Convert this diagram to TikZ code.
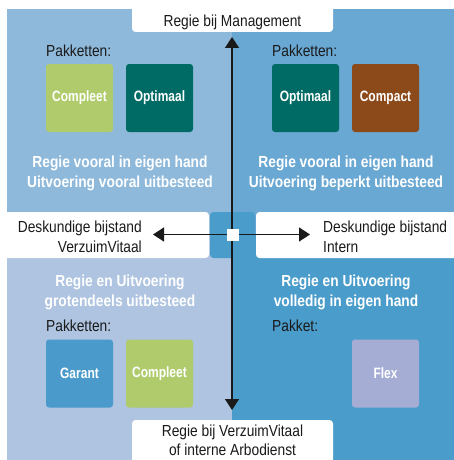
\documentclass[tikz,border=0pt]{standalone}
\usepackage{fontspec}
\setmainfont{Liberation Sans}
\newfontfamily\condR[FakeStretch=0.86]{Liberation Sans}
\newfontfamily\condN[FakeStretch=0.80]{Liberation Sans}
\usetikzlibrary{arrows.meta}
\definecolor{qTL}{HTML}{8EB9DB}
\definecolor{qTR}{HTML}{6AA8D4}
\definecolor{qBL}{HTML}{AEC4E0}
\definecolor{qBR}{HTML}{4A9CCB}
\definecolor{cGreen}{HTML}{AFCB6C}
\definecolor{cTeal}{HTML}{006B64}
\definecolor{cBrown}{HTML}{8C4A1B}
\definecolor{cBlue}{HTML}{4A9BCB}
\definecolor{cLav}{HTML}{A5ADD5}
\definecolor{txt}{HTML}{1A1A1A}
\tikzset{
  pkg/.style={rounded corners=3pt, minimum width=67pt, minimum height=68pt, inner sep=0pt,
    text=white, font=\condN\bfseries\fontsize{15}{18}\selectfont},
  lbl/.style={inner sep=0pt, text=txt, font=\condR\fontsize{16}{19.5}\selectfont},
  head/.style={inner sep=0pt, text=white, align=center, font=\condR\bfseries\fontsize{16}{20}\selectfont},
  wbox/.style={fill=white, rounded corners=3.5pt},
  axis/.style={line width=1.5pt, txt, -{Triangle[length=11pt,width=14pt]}}
}
\begin{document}
\begin{tikzpicture}[x=1pt,y=-1pt]
\useasboundingbox (0,0) rectangle (453,460);
% quadrants
\fill[qTL] (7,9) rectangle (232,235);
\fill[qTR] (232,9) rectangle (460,235);
\fill[qBL] (7,235) rectangle (232,470);
\fill[qBR] (232,235) rectangle (460,470);
% middle band
\fill[wbox] (-8,212) rectangle (209,258);
\fill[wbox] (256,212) rectangle (470,258);
\fill[qBR, rounded corners=3.5pt] (210,212) rectangle (255,258);
% top and bottom label boxes
\fill[wbox] (132,-10) rectangle (333,32);
\fill[wbox] (132,420) rectangle (333,475);
% axes
\coordinate (mid) at (232,234.5);
\coordinate (up) at (232,37);
\coordinate (down) at (232,410);
\coordinate (left) at (153,234.5);
\coordinate (right) at (310,234.5);
\draw[axis] (mid) -- (up);
\draw[axis] (mid) -- (down);
\draw[axis] (mid) -- (left);
\draw[axis] (mid) -- (right);
\node[fill=white, minimum size=12pt, inner sep=0pt] (ctr) at (233,235) {};
% axis labels
\node[lbl, anchor=base] (mgmt) at (232.5,27) {Regie bij Management};
\node[lbl, anchor=center, align=center] (vv) at (232.5,440.5) {Regie bij VerzuimVitaal\\of interne Arbodienst};
\node[lbl, anchor=east, align=right] (dbl) at (142,237) {Deskundige bijstand\\VerzuimVitaal};
\node[lbl, anchor=west, align=left] (dbr) at (323,237) {Deskundige bijstand\\Intern};
% quadrant top-left
\node[lbl, anchor=base west] (pTL) at (46,56.5) {Pakketten:};
\node[pkg, fill=cGreen] (tl1) at (79.5,98) {Compleet};
\node[pkg, fill=cTeal] (tl2) at (159.5,98) {Optimaal};
\node[head] (hTL) at (120,173.5) {Regie vooral in eigen hand\\Uitvoering vooral uitbesteed};
% quadrant top-right
\node[lbl, anchor=base west] (pTR) at (272,56.5) {Pakketten:};
\node[pkg, fill=cTeal] (tr1) at (305.5,98) {Optimaal};
\node[pkg, fill=cBrown] (tr2) at (385.5,98) {Compact};
\node[head] (hTR) at (346,173.5) {Regie vooral in eigen hand\\Uitvoering beperkt uitbesteed};
% quadrant bottom-left
\node[head] (hBL) at (120,292.5) {Regie en Uitvoering\\grotendeels uitbesteed};
\node[lbl, anchor=base west] (pBL) at (46,331.5) {Pakketten:};
\node[pkg, fill=cBlue] (bl1) at (79.5,373.5) {Garant};
\node[pkg, fill=cGreen] (bl2) at (159.5,373.5) {Compleet};
% quadrant bottom-right
\node[head] (hBR) at (346,292.5) {Regie en Uitvoering\\volledig in eigen hand};
\node[lbl, anchor=base west] (pBR) at (272,331.5) {Pakket:};
\node[pkg, fill=cLav] (br1) at (385.5,373.5) {Flex};
\end{tikzpicture}
\end{document}
